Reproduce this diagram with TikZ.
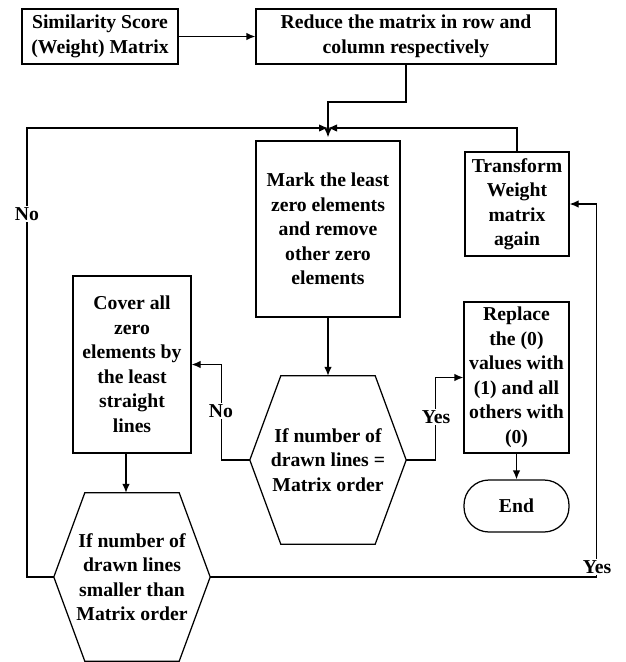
\documentclass[tikz,border=0pt]{standalone}
\usepackage{fontspec}
\setmainfont{Liberation Serif}
\usetikzlibrary{arrows.meta,calc}
\begin{document}
\begin{tikzpicture}[x=1pt,y=-1pt,
  every node/.style={font=\bfseries\fontsize{19.7}{24.5}\selectfont, align=center},
  box/.style={draw, line width=1.25pt, inner sep=1pt},
  hexn/.style={inner sep=1pt, minimum width=156pt, minimum height=168pt},
  hexline/.style={line width=1.25pt},
  arr/.style={line width=1.25pt, -{Latex[length=9pt,width=7.5pt]}},
  ln/.style={line width=1.25pt},
  lbl/.style={fill=white, inner sep=1pt}]
\useasboundingbox (0,0) rectangle (626,662);
% boxes
\node[box, minimum width=156pt, minimum height=55pt] (A) at (100,36.5) {Similarity Score\\(Weight) Matrix};
\node[box, minimum width=300pt, minimum height=55pt] (B) at (406,36.5) {Reduce the matrix in row and\\column respectively};
\node[box, minimum width=144pt, minimum height=176pt] (M) at (328,229) {Mark the least\\zero elements\\and remove\\other zero\\elements};
\node[box, minimum width=104pt, minimum height=104pt] (T) at (517,204) {Transform\\Weight\\matrix\\again};
\node[box, minimum width=118pt, minimum height=177pt] (C) at (132,364.5) {Cover all\\zero\\elements by\\the least\\straight\\lines};
\node[box, minimum width=105pt, minimum height=151pt] (R) at (516.5,377.5) {Replace\\the (0)\\values with\\(1) and all\\others with\\(0)};
\node[box, minimum width=105pt, minimum height=52pt, rounded corners=25pt] (E) at (516.5,506) {End};
\node[hexn] (H1) at (328,460) {If number of\\drawn lines =\\Matrix order};
\node[hexn] (H2) at (132,577) {If number of\\drawn lines\\smaller than\\Matrix order};
% hexagon outlines
\foreach \h in {H1,H2}{
  \draw[hexline] (\h.west) -- ([xshift=31pt]\h.north west) -- ([xshift=-31pt]\h.north east) -- (\h.east)
    -- ([xshift=-31pt]\h.south east) -- ([xshift=31pt]\h.south west) -- cycle;
}
% junction coordinates
\coordinate (J) at (328,128);
\coordinate (BL) at (406,102);
\coordinate (LL) at (27,128);
\coordinate (TR) at (517,128);
% connectors
\draw[arr] (A.east) -- (B.west);
\draw[arr] (B.south) -- (BL) -| ([yshift=3pt]M.north);
\draw[arr] (H2.west) -| (LL) -- (J);
\draw[arr] (T.north) -- (TR) -- (J);
\draw[arr] (M.south) -- (H1.north);
\draw[arr] (H1.west) -| ($(C.east)+(30,0)$) -- (C.east);
\draw[arr] (H1.east) -| ($(R.west)+(-28,0)$) -- (R.west);
\draw[arr] (R.south) -- (E.north);
\draw[arr] ($(C.south)+(-6,0)$) -- ($(H2.north)+(-6,0)$);
\draw[arr] (H2.east) -| ($(T.east)+(27,0)$) -- (T.east);
% labels
\node[lbl] (no1) at (27,214) {No};
\node[lbl] (no2) at (221,411) {No};
\node[lbl] (yes1) at (436,417) {Yes};
\node[lbl] (yes2) at (597,567) {Yes};
\end{tikzpicture}
\end{document}
